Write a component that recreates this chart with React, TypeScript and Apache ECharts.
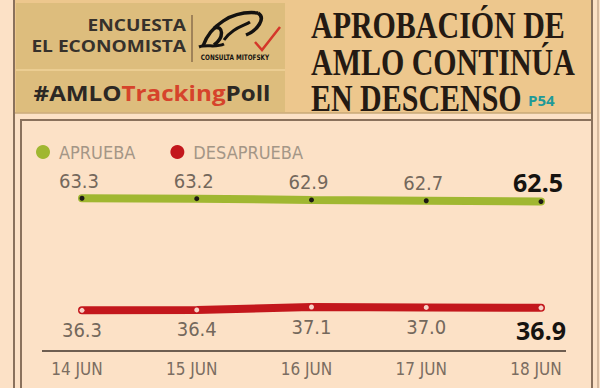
import React, { useEffect, useRef } from "react";
import * as echarts from "echarts";

const categories = ["14 JUN", "15 JUN", "16 JUN", "17 JUN", "18 JUN"];
const apruebaValues = [63.3, 63.2, 62.9, 62.7, 62.5];
const desapruebaValues = [36.3, 36.4, 37.1, 37.0, 36.9];
const seriesNames = ["APRUEBA", "DESAPRUEBA"];
const seriesColors = ["#a0b731", "#c3171c"];
const titleLines = ["APROBACIÓN DE", "AMLO CONTINÚA", "EN DESCENSO"];

const NARROW = "'Liberation Sans Narrow', 'DejaVu Sans Condensed', 'Roboto Condensed', sans-serif";
const SANS = "'Open Sans', 'Noto Sans', sans-serif";
const BG = "#fce1c6";
const FRAME = "#8a715c";

function buildData(values: number[]) {
  return values.map((v, i) =>
    i === values.length - 1
      ? {
          value: v,
          label: {
            fontFamily: "'Noto Sans', 'Open Sans', sans-serif",
            fontWeight: "bold",
            fontSize: 25,
            color: "#161310",
          },
        }
      : { value: v }
  );
}

export default function App() {
  const ref = useRef<HTMLDivElement>(null);
  useEffect(() => {
    document.body.style.margin = "0";
    const chart = echarts.init(ref.current!, null, { renderer: "svg" });
    const option: any = {
      animation: false,
      backgroundColor: BG,
      legend: {
        data: seriesNames.map((n, i) => ({ name: n, itemStyle: { color: seriesColors[i] } })),
        left: 31,
        top: 138,
        icon: "circle",
        itemWidth: 22,
        itemHeight: 14,
        itemGap: 35,
        textStyle: { fontFamily: NARROW, fontSize: 18, color: "#a49686" },
      },
      grid: { top: 130, bottom: 37, left: 82, right: 59 },
      xAxis: {
        type: "category",
        data: categories,
        boundaryGap: false,
        axisLine: { show: false },
        axisTick: { show: false },
        splitLine: { show: false },
        axisLabel: {
          fontFamily: NARROW,
          fontSize: 17,
          color: "#7b6d61",
          margin: 9,
          padding: [0, 10, 0, 0],
        },
      },
      yAxis: {
        type: "value",
        min: 26.5,
        max: 79.75,
        show: false,
        splitLine: { show: false },
      },
      series: [
        {
          name: seriesNames[0],
          type: "line",
          data: buildData(apruebaValues),
          color: seriesColors[0],
          lineStyle: { width: 8, color: seriesColors[0], cap: "round" },
          symbol: "circle",
          symbolSize: 5,
          itemStyle: { color: "#1e1a14", borderWidth: 0 },
          label: {
            show: true,
            position: "top",
            distance: 5,
            fontFamily: NARROW,
            fontSize: 20,
            color: "#74685c",
            padding: [0, 6, 0, 0],
            formatter: (p: any) => Number(p.value).toFixed(1),
          },
          z: 3,
        },
        {
          name: seriesNames[1],
          type: "line",
          data: buildData(desapruebaValues),
          color: seriesColors[1],
          lineStyle: { width: 8, color: seriesColors[1], cap: "round" },
          symbol: "circle",
          symbolSize: 5,
          itemStyle: { color: "#f6d2c6", borderWidth: 0 },
          label: {
            show: true,
            position: "bottom",
            distance: 7,
            fontFamily: NARROW,
            fontSize: 20,
            color: "#74685c",
            formatter: (p: any) => Number(p.value).toFixed(1),
          },
          z: 3,
        },
      ],
      graphic: [
        // header background
        { type: "rect", shape: { x: 15, y: 0, width: 577, height: 113 }, style: { fill: "#edc78d" }, z: 0 },
        { type: "rect", shape: { x: 16, y: 3, width: 269, height: 109 }, style: { fill: "#ddbd7d" }, z: 1 },
        { type: "line", shape: { x1: 16, y1: 70, x2: 285, y2: 70 }, style: { stroke: "#efd39a", lineWidth: 1.5 }, z: 2 },
        { type: "line", shape: { x1: 15, y1: 113, x2: 592, y2: 113 }, style: { stroke: "#c9a877", lineWidth: 1.5 }, z: 2 },
        // frame lines
        { type: "line", shape: { x1: 14, y1: 0, x2: 14, y2: 388 }, style: { stroke: FRAME, lineWidth: 2 }, z: 5 },
        { type: "line", shape: { x1: 592, y1: 0, x2: 592, y2: 388 }, style: { stroke: FRAME, lineWidth: 2 }, z: 5 },
        { type: "line", shape: { x1: 598, y1: 0, x2: 598, y2: 388 }, style: { stroke: "#c9ab90", lineWidth: 1.5 }, z: 5 },
        { type: "polyline", shape: { points: [[21, 390], [21, 120], [591, 120]] }, style: { stroke: FRAME, lineWidth: 2, fill: null }, z: 5 },
        // axis baseline
        { type: "line", shape: { x1: 42, y1: 351, x2: 566, y2: 351 }, style: { stroke: "#6e5e51", lineWidth: 2 }, z: 5 },
        // logo texts
        {
          type: "text", x: 186, y: 25, scaleX: 1.16,
          style: { text: "ENCUESTA", fontFamily: SANS, fontWeight: "bold", fontSize: 16.5, fill: "#36312b", textAlign: "right", textVerticalAlign: "middle" },
          z: 3,
        },
        {
          type: "text", x: 186, y: 46, scaleX: 1.16,
          style: { text: "EL ECONOMISTA", fontFamily: SANS, fontWeight: "bold", fontSize: 16.5, fill: "#36312b", textAlign: "right", textVerticalAlign: "middle" },
          z: 3,
        },
        { type: "line", shape: { x1: 192, y1: 15, x2: 192, y2: 62 }, style: { stroke: "#8a6f4e", lineWidth: 1.5 }, z: 3 },
        // horse logo strokes
        { type: "bezierCurve", shape: { x1: 203, y1: 46, cpx1: 210, cpy1: 26, cpx2: 232, cpy2: 10, x2: 258, y2: 13 }, style: { stroke: "#141210", lineWidth: 3.5, fill: null }, z: 3 },
        { type: "bezierCurve", shape: { x1: 258, y1: 13, cpx1: 266, cpy1: 18, cpx2: 258, cpy2: 30, x2: 246, y2: 35 }, style: { stroke: "#141210", lineWidth: 3.5, fill: null }, z: 3 },
        { type: "bezierCurve", shape: { x1: 214, y1: 28, cpx1: 224, cpy1: 25, cpx2: 224, cpy2: 38, x2: 214, y2: 45 }, style: { stroke: "#141210", lineWidth: 3.5, fill: null }, z: 3 },
        { type: "bezierCurve", shape: { x1: 224, y1: 40, cpx1: 232, cpy1: 28, cpx2: 244, cpy2: 26, x2: 250, y2: 22 }, style: { stroke: "#141210", lineWidth: 3, fill: null }, z: 3 },
        { type: "bezierCurve", shape: { x1: 199, y1: 47, cpx1: 206, cpy1: 44, cpx2: 216, cpy2: 48, x2: 224, y2: 44 }, style: { stroke: "#141210", lineWidth: 3, fill: null }, z: 3 },
        { type: "polyline", shape: { points: [[255, 42], [262, 50], [280, 27]] }, style: { stroke: "#d4362a", lineWidth: 2.5, fill: null }, z: 3 },
        {
          type: "text", x: 235, y: 58, scaleX: 0.85,
          style: { text: "CONSULTA MITOFSKY", fontFamily: NARROW, fontWeight: "bold", fontSize: 7.5, fill: "#141210", textAlign: "center", textVerticalAlign: "middle" },
          z: 3,
        },
        {
          type: "text", x: 152, y: 92, scaleX: 1.1,
          style: {
            text: "{a|#AMLO}{b|Tracking}{a|Poll}",
            textAlign: "center",
            textVerticalAlign: "middle",
            rich: {
              a: { fontFamily: SANS, fontWeight: "bold", fontSize: 22, fill: "#2c2824", color: "#2c2824" },
              b: { fontFamily: SANS, fontWeight: "bold", fontSize: 22, fill: "#d6432b", color: "#d6432b" },
            },
          },
          z: 3,
        },
        // title
        ...titleLines.map((t, i) => ({
          type: "text",
          x: 311,
          y: [25, 62, 98][i],
          scaleX: 0.81,
          style: {
            text: t,
            fontFamily: "'Liberation Serif', 'DejaVu Serif', serif",
            fontWeight: "bold",
            fontSize: 37,
            fill: "#241a13",
            textAlign: "left",
            textVerticalAlign: "middle",
          },
          z: 3,
        })),
        {
          type: "text", x: 528, y: 100,
          style: { text: "P54", fontFamily: SANS, fontWeight: "bold", fontSize: 15, fill: "#1f9a98", textAlign: "left", textVerticalAlign: "middle" },
          z: 3,
        },
      ],
    };
    chart.setOption(option);
    return () => chart.dispose();
  }, []);
  return <div ref={ref} style={{ width: 600, height: 388, position: "fixed", left: 0, top: 0 }} />;
}
